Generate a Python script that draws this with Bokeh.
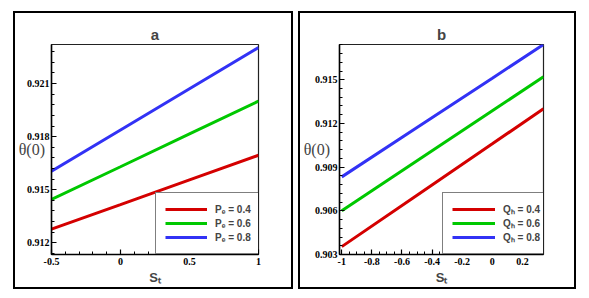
from bokeh.plotting import figure
from bokeh.layouts import row, column
from bokeh.models import (Range1d, SingleIntervalTicker, CustomJSTickFormatter,
                          Legend, LegendItem)
from bokeh.embed import file_html
from bokeh.resources import INLINE

# ---------------- data ----------------
st_a = [-0.5, 0.0, 0.5, 1.0]
theta_a_pe04 = [0.91277, 0.91416, 0.91556, 0.91695]
theta_a_pe06 = [0.91445, 0.91630, 0.91816, 0.92001]
theta_a_pe08 = [0.91605, 0.91838, 0.92071, 0.92304]
labels_a = ["P\u2091 = 0.4", "P\u2091 = 0.6", "P\u2091 = 0.8"]

st_b = [-1.0, -0.5, 0.0, 0.34]
theta_b_qh04 = [0.90354, 0.90707, 0.91060, 0.91301]
theta_b_qh06 = [0.90600, 0.90943, 0.91287, 0.91520]
theta_b_qh08 = [0.90833, 0.91172, 0.91511, 0.91742]
labels_b = ["Q\u2095 = 0.4", "Q\u2095 = 0.6", "Q\u2095 = 0.8"]

colors = ["#d40000", "#00c800", "#3232f5"]

fmt = CustomJSTickFormatter(code="return String(Math.round(tick*1000)/1000);")


def make_panel(title, xs, series, labels, xr, yr, xint, xminor, yint, yminor,
               borders, legend_left, glyph_w, width, height,
               title_offset, ylab_standoff):
    bl, br, bt, bb = borders
    p = figure(width=width, height=height, output_backend="svg", toolbar_location=None,
               x_range=Range1d(*xr), y_range=Range1d(*yr),
               min_border_left=bl, min_border_right=br,
               min_border_top=bt, min_border_bottom=bb)
    p.xgrid.visible = False
    p.ygrid.visible = False
    p.outline_line_color = "#222222"
    p.outline_line_width = 1.2
    p.background_fill_color = "white"
    p.border_fill_color = "white"

    p.title.text = title
    p.title.align = "center"
    p.title.offset = title_offset
    p.title.standoff = 4
    p.title.text_font = "Liberation Sans"
    p.title.text_font_style = "bold"
    p.title.text_font_size = "15px"

    p.xaxis.ticker = SingleIntervalTicker(interval=xint, num_minor_ticks=xminor)
    p.yaxis.ticker = SingleIntervalTicker(interval=yint, num_minor_ticks=yminor)
    for ax in (p.xaxis[0], p.yaxis[0]):
        ax.formatter = fmt
        ax.major_tick_in = 5
        ax.major_tick_out = 0
        ax.minor_tick_in = 3
        ax.minor_tick_out = 0
        ax.axis_line_width = 1.5
        ax.major_tick_line_width = 1.2
        ax.minor_tick_line_width = 1
        ax.major_label_text_font = "Liberation Serif"
        ax.major_label_text_font_style = "bold"
        ax.major_label_text_font_size = "10px"
        ax.major_label_text_color = "black"
        ax.axis_line_color = "black"
    p.xaxis.major_label_standoff = 3
    p.yaxis.major_label_standoff = 2

    p.xaxis.axis_label = "S\u209c"
    p.xaxis.axis_label_text_font = "Liberation Sans"
    p.xaxis.axis_label_text_font_style = "bold"
    p.xaxis.axis_label_text_font_size = "13px"
    p.xaxis.axis_label_standoff = 2

    p.yaxis.axis_label = "\u03b8(0)"
    p.yaxis.axis_label_orientation = "horizontal"
    p.yaxis.axis_label_text_font = "Liberation Serif"
    p.yaxis.axis_label_text_font_style = "normal"
    p.yaxis.axis_label_text_font_size = "16px"
    p.yaxis.axis_label_standoff = ylab_standoff

    items = []
    for ys, c, lab in zip(series, colors, labels):
        r = p.line(xs, ys, line_color=c, line_width=3)
        items.append(LegendItem(label=lab, renderers=[r]))

    leg = Legend(items=items, location=(legend_left, 0), padding=9, spacing=0,
                 label_height=14, glyph_height=14, glyph_width=glyph_w,
                 label_standoff=8, label_text_font="Liberation Sans",
                 label_text_font_style="bold", label_text_font_size="10px",
                 border_line_color="black", border_line_width=1.5,
                 background_fill_color="white", background_fill_alpha=1.0,
                 margin=0)
    p.add_layout(leg, "center")
    return p


p1 = make_panel("a", st_a, [theta_a_pe04, theta_a_pe06, theta_a_pe08], labels_a,
                (-0.5, 1.0), (0.91134, 0.92321), 0.5, 5, 0.003, 5,
                (34, 33, 31, 28), 104, 42, 276, 274, -14, -21)
box1 = column(p1, styles={"border": "2px solid black"})
box1.margin = (11, 0, 0, 13)

p2 = make_panel("b", st_b, [theta_b_qh04, theta_b_qh06, theta_b_qh08], labels_b,
                (-1.015, 0.34), (0.903, 0.91742), 0.2, 4, 0.003, 5,
                (34, 31, 31, 28), 103, 43, 274, 274, -14, -18)
box2 = column(p2, styles={"border": "2px solid black"})
box2.margin = (11, 0, 0, 5)

layout = row(box1, box2)
open("out.html", "w").write(file_html(layout, INLINE))
